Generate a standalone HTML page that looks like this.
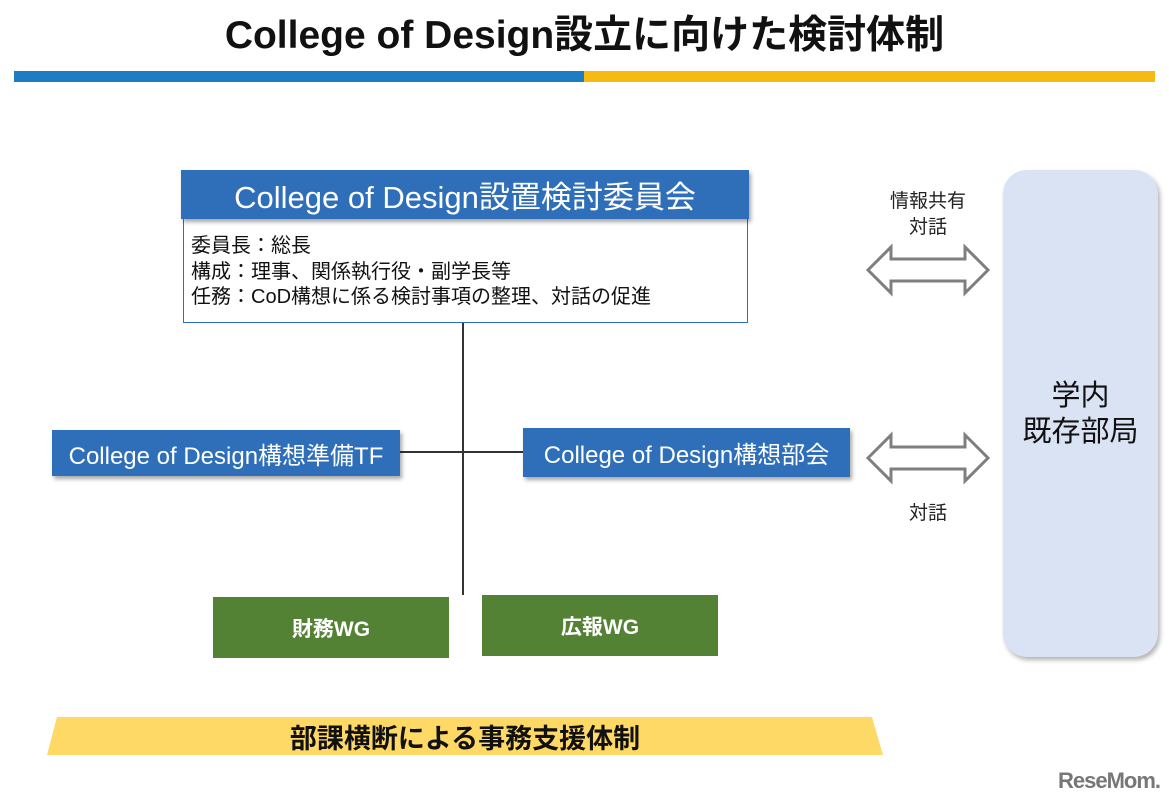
<!DOCTYPE html>
<html><head><meta charset="utf-8"><style>
body{margin:0;width:1169px;height:805px;background:#fff;position:relative;overflow:hidden;font-family:"Liberation Sans","Noto Sans CJK JP",sans-serif;}
.a{position:absolute;box-sizing:border-box;}
.c{display:flex;align-items:center;justify-content:center;white-space:nowrap;}
.blue{background:#2f6fba;color:#fff;box-shadow:2px 3px 4px rgba(0,0,0,.35);}
.green{background:#548235;color:#fff;font-size:21px;font-weight:bold;}
</style></head><body>
<div class="a c" style="left:0;top:7px;width:1169px;height:50px;font-size:39px;font-weight:bold;color:#111;">College of Design設立に向けた検討体制</div>
<div class="a" style="left:14px;top:71px;width:570px;height:11px;background:#1f7cc2;"></div>
<div class="a" style="left:584px;top:71px;width:571px;height:11px;background:#f6bb12;"></div>

<div class="a" style="left:183px;top:218px;width:565px;height:105px;border:1px solid #2f6fba;padding:15px 0 0 7px;font-size:20px;line-height:25.5px;color:#111;white-space:nowrap;">委員長：総長<br>構成：理事、関係執行役・副学長等<br>任務：CoD構想に係る検討事項の整理、対話の促進</div>
<div class="a c blue" style="left:181px;top:170px;width:568px;height:49px;font-size:31px;">College of Design設置検討委員会</div>

<div class="a" style="left:462px;top:323px;width:2px;height:272px;background:#333;"></div>
<div class="a" style="left:400px;top:451px;width:123px;height:2px;background:#333;"></div>

<div class="a c blue" style="left:52px;top:430px;width:348px;height:46px;font-size:24px;">College of Design構想準備TF</div>
<div class="a c blue" style="left:523px;top:428px;width:327px;height:49px;font-size:24px;">College of Design構想部会</div>

<div class="a c green" style="left:213px;top:597px;width:236px;height:61px;">財務WG</div>
<div class="a c green" style="left:482px;top:595px;width:236px;height:61px;">広報WG</div>

<svg class="a" style="left:0;top:0" width="1169" height="805">
<polygon points="57,717 872,717 883,755 47,755" fill="#ffd966"/>
<g fill="#fff" stroke="#7f7f7f" stroke-width="3">
<polygon points="868,270 891,247 891,259 965,259 965,247 988,270 965,293 965,281 891,281 891,293"/>
<polygon points="868,458 891,435 891,447 965,447 965,435 988,458 965,481 965,469 891,469 891,481"/>
</g>
</svg>
<div class="a c" style="left:47px;top:717px;width:836px;height:38px;font-size:27px;font-weight:bold;color:#111;">部課横断による事務支援体制</div>

<div class="a" style="left:878px;top:189px;width:100px;text-align:center;font-size:19px;line-height:26px;color:#222;">情報共有<br>対話</div>
<div class="a" style="left:878px;top:498px;width:100px;text-align:center;font-size:19px;color:#222;">対話</div>

<div class="a c" style="left:1003px;top:170px;width:155px;height:487px;border-radius:24px;background:#dae3f3;box-shadow:2px 3px 5px rgba(0,0,0,.3);font-size:29px;line-height:36px;text-align:center;color:#111;">学内<br>既存部局</div>

<div class="a" style="left:1058px;top:768px;font-size:22px;font-weight:bold;color:#777;letter-spacing:-1px;">ReseMom.</div>
</body></html>
